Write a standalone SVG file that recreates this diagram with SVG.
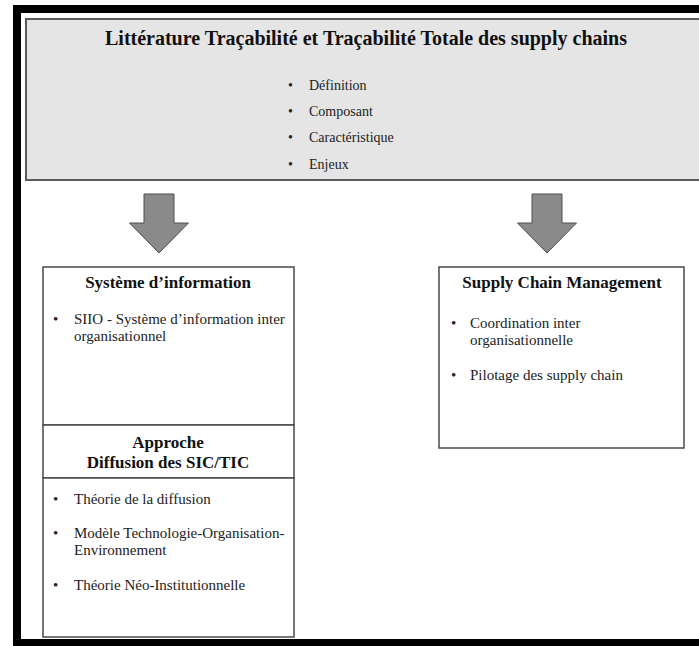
<svg xmlns="http://www.w3.org/2000/svg" width="699" height="646" viewBox="0 0 699 646">
  <style>
    .frame { fill: none; stroke: #000; stroke-width: 8; }
    .panel { fill: #e5e5e5; stroke: #5a5a5a; stroke-width: 2; }
    .box { fill: #fff; stroke: #4a4a4a; stroke-width: 1.5; }
    .arrow { fill: #8a8a8a; stroke: #4f4f4f; stroke-width: 1; stroke-linejoin: miter; }
    .title { font-family: "Liberation Serif", "Times New Roman", serif; font-weight: bold; fill: #111; text-anchor: middle; }
    .item { font-family: "Liberation Serif", "Times New Roman", serif; fill: #222; }
  </style>
  <defs>
    <path id="downArrow" class="arrow" d="M -15 0 H 15 V 29 H 29.5 L 0 59 L -29.5 29 H -15 Z"/>
  </defs>

  <rect x="0" y="0" width="699" height="646" fill="#fff"/>
  <!-- outer frame, open on the right -->
  <rect class="frame" x="17" y="9" width="700" height="634"/>

  <!-- top panel -->
  <g id="literature">
    <rect class="panel" x="26" y="19" width="690" height="161"/>
    <text class="title" x="366" y="45" font-size="20">Littérature Traçabilité et Traçabilité Totale des supply chains</text>
    <g class="item" font-size="14">
      <text x="288" y="90">•</text><text x="309" y="90">Définition</text>
      <text x="288" y="116">•</text><text x="309" y="116">Composant</text>
      <text x="288" y="142">•</text><text x="309" y="142">Caractéristique</text>
      <text x="288" y="169">•</text><text x="309" y="169">Enjeux</text>
    </g>
  </g>

  <!-- arrows -->
  <g id="connectors">
    <use href="#downArrow" x="159" y="194"/>
    <use href="#downArrow" x="547" y="194"/>
    <use href="#downArrow" x="164" y="359"/>
  </g>

  <g id="information-system">
    <rect class="box" x="43" y="267" width="251" height="158"/>
    <text class="title" x="168" y="288" font-size="17">Système d’information</text>
    <g class="item" font-size="15">
      <text x="53" y="324">•</text>
      <text x="74" y="324">SIIO - Système d’information inter</text>
      <text x="74" y="341">organisationnel</text>
    </g>
  </g>

  <g id="diffusion-approach">
    <rect class="box" x="43" y="425" width="251" height="53"/>
    <text class="title" x="168" y="448" font-size="17">Approche</text>
    <text class="title" x="168" y="468" font-size="17">Diffusion des SIC/TIC</text>
    <rect class="box" x="43" y="478" width="251" height="159"/>
    <g class="item" font-size="15">
      <text x="53" y="504">•</text><text x="74" y="504">Théorie de la diffusion</text>
      <text x="53" y="538">•</text><text x="74" y="538">Modèle Technologie-Organisation-</text>
      <text x="74" y="555">Environnement</text>
      <text x="53" y="590">•</text><text x="74" y="590">Théorie Néo-Institutionnelle</text>
    </g>
  </g>

  <g id="supply-chain-management">
    <rect class="box" x="439" y="267" width="245" height="181"/>
    <text class="title" x="562" y="288" font-size="17">Supply Chain Management</text>
    <g class="item" font-size="15">
      <text x="451" y="328">•</text><text x="470" y="328">Coordination inter</text>
      <text x="470" y="345">organisationnelle</text>
      <text x="451" y="380">•</text><text x="470" y="380">Pilotage des supply chain</text>
    </g>
  </g>
</svg>
